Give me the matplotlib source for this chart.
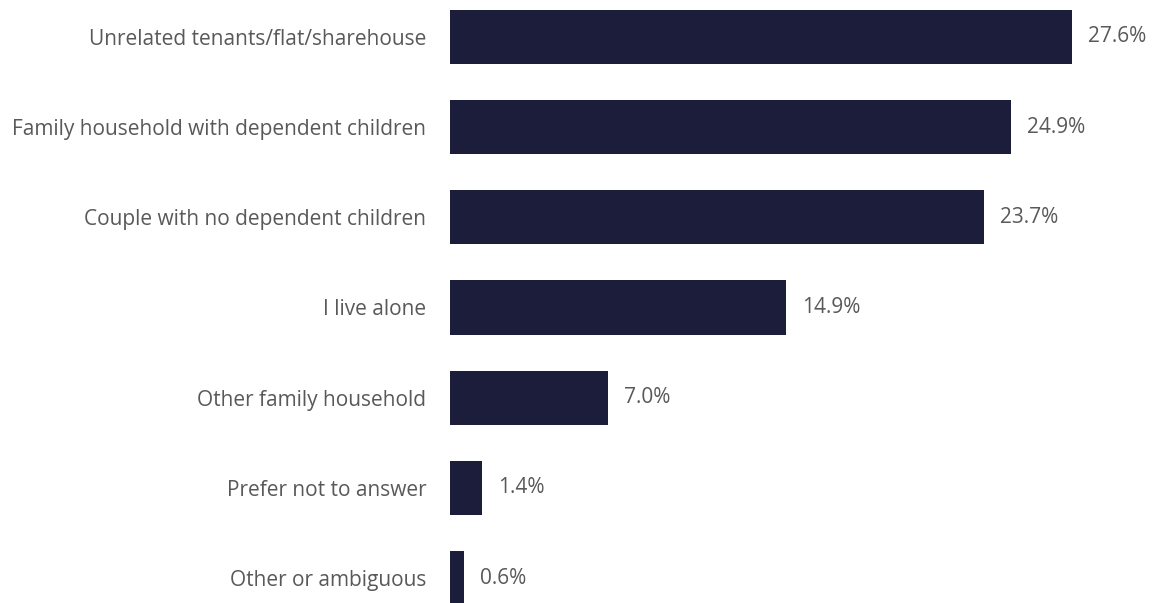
import matplotlib
matplotlib.use('Agg')
import matplotlib.pyplot as plt

categories = [
    "Unrelated tenants/flat/sharehouse",
    "Family household with dependent children",
    "Couple with no dependent children",
    "I live alone",
    "Other family household",
    "Prefer not to answer",
    "Other or ambiguous",
]
values = [27.6, 24.9, 23.7, 14.9, 7.0, 1.4, 0.6]

bar_color = '#1c1d3b'
text_color = '#595959'

plt.rcParams['font.family'] = ['Open Sans', 'DejaVu Sans']

fig = plt.figure(figsize=(11.58, 6.03), dpi=100)
# axes starts where bars start; x scale 22.54 px per percent
ax = fig.add_axes([450 / 1158, 0, (30 * 22.54) / 1158, 1])

pos = list(range(len(categories)))
ax.barh(pos, values, height=0.6, color=bar_color)
ax.set_xlim(0, 30)
ax.set_ylim(6.277, -0.41)

for p, v in zip(pos, values):
    ax.text(v + 0.72, p, '{:.1f}%'.format(v), va='center', ha='left',
            fontsize=15, color=text_color)

ax.set_yticks(pos)
ax.set_yticklabels(categories, fontsize=15, color=text_color)
ax.tick_params(axis='y', length=0, pad=17)
ax.set_xticks([])
for s in ax.spines.values():
    s.set_visible(False)

plt.savefig('out.png', dpi=100)
